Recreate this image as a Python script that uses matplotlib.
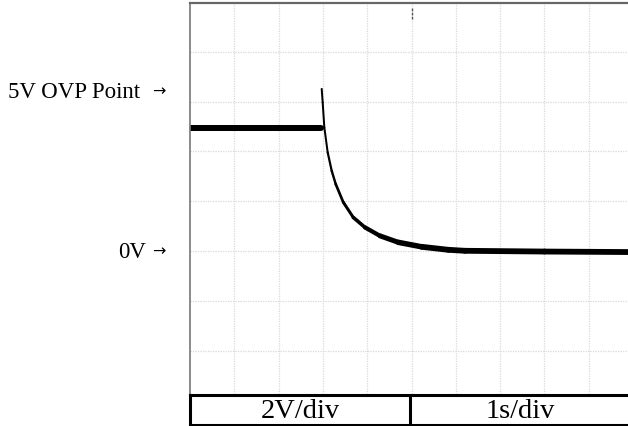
import numpy as np
import matplotlib.pyplot as plt
from matplotlib.collections import LineCollection

plt.rcParams['font.family'] = ['Liberation Serif', 'DejaVu Sans']

# scope trace: time (s) and voltage (V)
t_pts = [0.0, 2.95, 2.973, 2.995, 3.032, 3.108, 3.199, 3.289, 3.46, 3.686,
         3.95, 4.289, 4.702, 5.23, 5.831, 6.208, 8.0, 9.89]
v_pts = [4.96, 4.96, 6.51, 5.97, 4.97, 3.96, 3.22, 2.69, 1.96, 1.35,
         0.95, 0.61, 0.35, 0.17, 0.05, 0.01, -0.02, -0.04]
# visible trace thickness (px), noise makes flat parts look wider;
# the jump up to the overshoot is too fast to leave a trace
w_pts = [6, 0, 2.0, 2.0, 2.0, 2.2, 2.4, 2.7, 3.0, 3.6,
         4.3, 5.0, 5.5, 5.8, 5.8, 5.8, 5.8, 5.8]

volts_div = 2
sec_div = 1
labels = ['2V/div', '1s/div']

W, H = 628, 427
fig = plt.figure(figsize=(W / 100, H / 100), dpi=100)

ax = fig.add_axes([190 / W, (H - 395) / H, (W - 190) / W, 391 / H])
ax.set_xlim(0, 438 / 44.3 * sec_div)
ax.set_ylim(-5.74, 9.96)

for x in np.arange(1, 10) * sec_div:
    ax.axvline(x, color='#d9d9d9', lw=0.9, ls=(0, (1, 1)), zorder=0)
for y in np.arange(-2, 5) * volts_div:
    ax.axhline(y, color='#d9d9d9', lw=0.9, ls=(0, (1, 1)), zorder=0)

pts = np.column_stack([t_pts, v_pts])
segs = np.stack([pts[:-1], pts[1:]], axis=1)
lc = LineCollection(segs, linewidths=np.array(w_pts[:-1]) / 1.389,
                    colors='black', capstyle='round', joinstyle='round')
ax.add_collection(lc)

# trigger marker at top of screen
ax.plot([5.0, 5.0], [9.75, 9.3], color='#555555', lw=1.0, ls=(0, (2, 1)))

ax.set_xticks([])
ax.set_yticks([])
for s in ['right', 'bottom']:
    ax.spines[s].set_visible(False)
ax.spines['top'].set_color('#666666')
ax.spines['top'].set_linewidth(1.6)
ax.spines['left'].set_color('#777777')
ax.spines['left'].set_linewidth(1.2)

# scale box under the screen
bx = fig.add_axes([190 / W, 1.0 / H, 460 / W, 30.5 / H])
bx.set_xlim(0, 460)
bx.set_ylim(0, 1)
bx.set_xticks([])
bx.set_yticks([])
bx.spines['right'].set_visible(False)
for s in ['left', 'top', 'bottom']:
    bx.spines[s].set_linewidth(2.2)
bx.axvline(220, color='black', lw=2.2)
bx.text(110, 0.47, labels[0], ha='center', va='center', fontsize=20.5)
bx.text(330, 0.47, labels[1], ha='center', va='center', fontsize=20.5)

# level markers on the left
fig.text(140 / W, 1 - 93 / H, '5V OVP Point', ha='right', va='center', fontsize=16.5)
fig.text(146 / W, 1 - 252 / H, '0V', ha='right', va='center', fontsize=16.5)
for yp in [92, 252]:
    fig.text(152 / W, 1 - yp / H, '→', ha='left', va='center', fontsize=11.5,
             family=['DejaVu Sans'])

fig.savefig('out.png', dpi=100)
